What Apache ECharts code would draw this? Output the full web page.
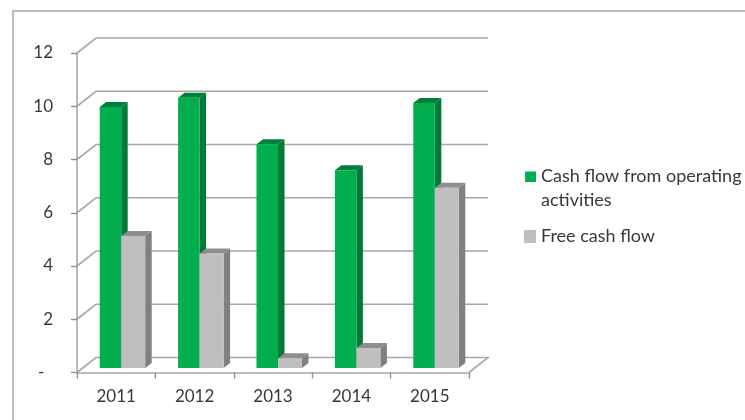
<!DOCTYPE html>
<html>
<head>
<meta charset="utf-8">
<style>html,body{margin:0;padding:0;background:#fff}#c{width:745px;height:420px}</style>
<script src="https://cdn.jsdelivr.net/npm/echarts@6/dist/echarts.min.js"></script>
</head>
<body>
<div id="c"></div>
<script>
const categories = ['2011', '2012', '2013', '2014', '2015'];
const operatingCashFlow = [9.8, 10.15, 8.4, 7.43, 9.95];
const freeCashFlow = [4.96, 4.3, 0.37, 0.75, 6.77];
const yTicks = [0, 2, 4, 6, 8, 10, 12];
const nameOperating = 'Cash flow from operating activities';
const nameFree = 'Free cash flow';

const LINE = '#A8A8A8';
const FONT = 'Lato';
const TEXT = '#383838';
const WALL_DX = 19, WALL_DY = -15;
const BAR_DX = 6.5, BAR_DY = -5, BASE_DY = -4.5;

function wallItem(params, api) {
  const v = api.value(1);
  const sys = params.coordSys;
  const p = api.coord([0, v]);
  const style = { stroke: LINE, lineWidth: 1.6, fill: null };
  const x0 = sys.x, x1 = sys.x + sys.width, y = p[1];
  const pts = [[x0, y], [x0 + WALL_DX, y + WALL_DY], [x1 + WALL_DX, y + WALL_DY]];
  if (v === 0) pts.push([x1, y]);
  return { type: 'polyline', shape: { points: pts }, style };
}

function barRenderer(left, right, front, side, top) {
  return function (params, api) {
    const c = api.coord([api.value(0), api.value(1)]);
    const b = api.coord([api.value(0), 0]);
    const xl = c[0] + left, xr = c[0] + right;
    const yt = c[1] + BASE_DY, yb = b[1] + BASE_DY;
    return {
      type: 'group',
      children: [
        { type: 'polygon', shape: { points: [[xr, yt], [xr + BAR_DX, yt + BAR_DY], [xr + BAR_DX, yb + BAR_DY], [xr, yb]] }, style: { fill: side } },
        { type: 'polygon', shape: { points: [[xl, yt], [xl + BAR_DX, yt + BAR_DY], [xr + BAR_DX, yt + BAR_DY], [xr, yt]] }, style: { fill: top } },
        { type: 'rect', shape: { x: xl, y: yt, width: xr - xl, height: yb - yt }, style: { fill: front } }
      ]
    };
  };
}

const chart = echarts.init(document.getElementById('c'), null, { renderer: 'canvas' });
chart.setOption({
  animation: false,
  backgroundColor: '#fff',
  grid: { left: 77, right: 276, top: 53, bottom: 47.5, containLabel: false },
  xAxis: {
    type: 'category',
    data: categories,
    axisLine: { lineStyle: { color: LINE, width: 1.6 } },
    axisTick: { show: true, alignWithLabel: false, length: 6, lineStyle: { color: '#909090', width: 1.4 } },
    axisLabel: { color: TEXT, fontFamily: FONT, fontSize: 17, margin: 16 }
  },
  yAxis: {
    type: 'value',
    min: 0,
    max: 12,
    interval: 2,
    splitLine: { show: false },
    axisLine: { show: true, lineStyle: { color: LINE, width: 1.6 } },
    axisTick: { show: true, length: 6, lineStyle: { color: '#909090', width: 1.4 } },
    axisLabel: {
      color: TEXT, fontFamily: FONT, fontSize: 17, margin: 24,
      formatter: v => v === 0 ? '-\u00a0\u00a0' : String(v)
    }
  },
  legend: {
    orient: 'vertical',
    left: 524,
    top: 164,
    itemWidth: 12,
    itemHeight: 48,
    itemGap: 0,
    padding: 0,
    symbolKeepAspect: false,
    formatter: n => n.replace('operating ', 'operating\n'),
    textStyle: { color: TEXT, fontFamily: FONT, fontSize: 18, lineHeight: 24 },
    data: [
      { name: nameOperating, icon: 'path://M0 0H.01V.01H0Z M1 7.5H11V18H1Z M0 47.99H.01V48H0Z' },
      { name: nameFree, icon: 'path://M0 0H.01V.01H0Z M0 18H12V31H0Z M0 47.99H.01V48H0Z' }
    ]
  },
  graphic: [
    { type: 'polyline', silent: true, z: -1,
      shape: { points: [[13, 420], [13, 11], [745, 11]] },
      style: { stroke: '#BDBDBD', lineWidth: 2, fill: null } }
  ],
  series: [
    {
      type: 'custom', name: 'walls', silent: true, clip: false, z: 1,
      renderItem: wallItem,
      encode: { x: 0, y: 1 },
      data: yTicks.map(v => [0, v])
    },
    {
      type: 'custom', name: nameOperating, clip: false, z: 2,
      itemStyle: { color: '#00AE4D' },
      renderItem: barRenderer(-16.5, 5, '#00AE4D', '#007A38', '#007F3B'),
      encode: { x: 0, y: 1 },
      data: operatingCashFlow.map((v, i) => [i, v])
    },
    {
      type: 'custom', name: nameFree, clip: false, z: 3,
      itemStyle: { color: '#BFBFBF' },
      renderItem: barRenderer(5, 29, '#BFBFBF', '#808080', '#8E8E8E'),
      encode: { x: 0, y: 1 },
      data: freeCashFlow.map((v, i) => [i, v])
    }
  ]
});
</script>
</body>
</html>
